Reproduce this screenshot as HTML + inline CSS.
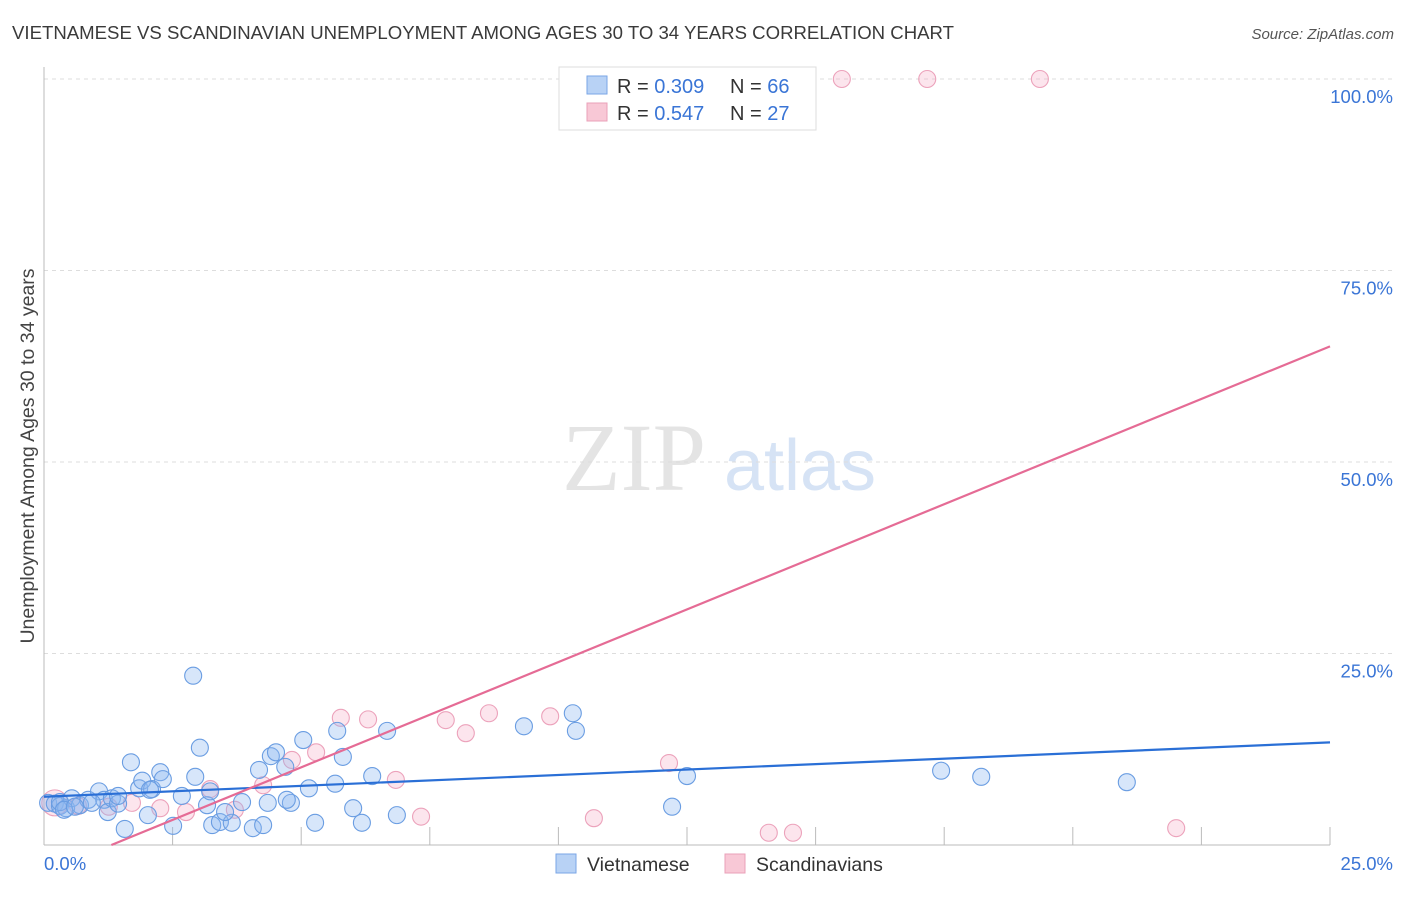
<!DOCTYPE html>
<html><head><meta charset="utf-8"><style>
body{margin:0;background:#fff;font-family:"Liberation Sans",sans-serif}
</style></head><body>
<svg id="c" width="1406" height="892" xmlns="http://www.w3.org/2000/svg">
<text x="12" y="39" font-size="18.6" fill="#3a3a3a">VIETNAMESE VS SCANDINAVIAN UNEMPLOYMENT AMONG AGES 30 TO 34 YEARS CORRELATION CHART</text>
<text x="1394" y="39" font-size="15" fill="#555" text-anchor="end" font-style="italic">Source: ZipAtlas.com</text>
<text transform="translate(34,456) rotate(-90)" font-size="19.5" fill="#444" text-anchor="middle">Unemployment Among Ages 30 to 34 years</text>
<g>
<text x="634" y="490" font-size="96" fill="#e4e4e4" font-family="Liberation Serif,serif" text-anchor="middle">ZIP</text>
<text x="800" y="490" font-size="72" fill="#d6e3f5" text-anchor="middle">atlas</text>
</g>
<g id="grid"></g>
<g id="axes"></g>
<g id="pts"></g>
<g id="lines"></g>
<g>
<rect x="559" y="67" width="257" height="63" fill="#fff" stroke="#ddd"/>
<rect x="587" y="76" width="20" height="18" fill="#b8d2f5" stroke="#7aa6e6"/>
<text x="617" y="93" font-size="20" fill="#333">R = <tspan fill="#3a75d6">0.309</tspan></text>
<text x="730" y="93" font-size="20" fill="#333">N = <tspan fill="#3a75d6">66</tspan></text>
<rect x="587" y="103" width="20" height="18" fill="#f8c8d6" stroke="#eaa0b8"/>
<text x="617" y="120" font-size="20" fill="#333">R = <tspan fill="#3a75d6">0.547</tspan></text>
<text x="730" y="120" font-size="20" fill="#333">N = <tspan fill="#3a75d6">27</tspan></text>
</g>
<g>
<rect x="556" y="854" width="20" height="19" fill="#b8d2f5" stroke="#7aa6e6"/>
<text x="587" y="871" font-size="19.5" fill="#333">Vietnamese</text>
<rect x="725" y="854" width="20" height="19" fill="#f8c8d6" stroke="#eaa0b8"/>
<text x="756" y="871" font-size="19.5" fill="#333">Scandinavians</text>
</g>
</svg>
<script>
const blueX=[0.08,0.21,0.31,0.43,0.54,0.70,0.86,1.07,1.17,1.24,1.32,1.44,1.57,1.69,1.85,1.91,2.02,2.10,2.26,2.31,2.51,2.68,2.90,2.94,3.03,3.17,3.23,3.27,3.42,3.65,3.85,4.06,4.18,4.26,4.35,4.41,4.51,4.69,4.80,5.04,5.15,5.27,5.66,5.70,5.81,6.01,6.18,6.38,6.67,6.86,9.33,10.28,10.34,12.21,12.50,17.44,18.22,21.05,0.31,0.39,0.93,1.44,2.06,3.52,4.72,0.6];
const blueY=[5.5,5.4,5.1,4.8,6.1,5.2,5.9,7.0,5.9,4.3,6.1,5.4,2.1,10.8,7.4,8.4,3.9,7.3,9.5,8.6,2.5,6.4,22.1,8.9,12.7,5.2,7.0,2.6,3.0,2.9,5.6,2.2,9.8,2.6,5.5,11.6,12.1,10.2,5.5,13.7,7.4,2.9,8.0,14.9,11.5,4.8,2.9,9.0,14.9,3.9,15.5,17.2,14.9,5.0,9.0,9.7,8.9,8.2,5.6,4.6,5.5,6.4,7.2,4.3,5.9,5.0];
const pinkX=[0.21,0.66,1.26,1.71,2.26,2.76,3.23,3.71,4.26,4.82,5.29,5.77,6.30,6.84,7.33,7.81,8.20,8.65,9.84,10.69,12.15,14.09,14.56,22.01,15.51,17.17,19.36];
const pinkY=[5.5,5.1,5.0,5.5,4.8,4.3,7.3,4.6,7.8,11.1,12.1,16.6,16.4,8.5,3.7,16.3,14.6,17.2,16.8,3.5,10.7,1.6,1.6,2.2,100,100,100];
const blueLine=[6.3,13.4];
const pinkLine=[-3.6,65.1];
const yTicks=[25,50,75,100];
const yTickLabels=["25.0%","50.0%","75.0%","100.0%"];
const xTickLabels=["0.0%","25.0%"];
const X=v=>44+v*(1330-44)/25, Y=v=>845-v*(845-79)/100;
const NS="http://www.w3.org/2000/svg";
function mk(p,t,a){const e=document.createElementNS(NS,t);for(const k in a)e.setAttribute(k,a[k]);p.appendChild(e);return e;}
const grid=document.getElementById('grid'),axes=document.getElementById('axes'),pts=document.getElementById('pts'),lines=document.getElementById('lines');
yTicks.forEach((t,i)=>{
 const l=mk(grid,'line',{x1:44,x2:1393,y1:Y(t),y2:Y(t),stroke:'#ddd','stroke-dasharray':'4,4'});
 
 
 const tx=mk(grid,'text',{x:1393,y:Y(t)+24,'font-size':18.5,fill:'#3a75d6','text-anchor':'end'});
 tx.textContent=yTickLabels[i];
 
 
});
mk(axes,'line',{x1:44,x2:44,y1:67,y2:845,stroke:'#bbb'});
mk(axes,'line',{x1:44,x2:1330,y1:845,y2:845,stroke:'#bbb'});
for(let i=1;i<=10;i++){const x=X(i*2.5);const t=mk(axes,'line',{x1:x,x2:x,y1:827,y2:845,stroke:'#bbb'});
 
 }
[[0,'start',44],[1,'end',1393]].forEach(([i,a,x])=>{const t=mk(axes,'text',{x:x,y:870,'font-size':18.5,fill:'#3a75d6','text-anchor':a});t.textContent=xTickLabels[i];
 
 });
pinkX.forEach((v,i)=>{const c=mk(pts,'circle',{cx:X(v),cy:Y(pinkY[i]),r:i===0?13:8.5,fill:'rgba(244,170,195,0.3)',stroke:'#eca2bb','stroke-width':1.1});
 
 });
blueX.forEach((v,i)=>{const c=mk(pts,'circle',{cx:X(v),cy:Y(blueY[i]),r:8.5,fill:'rgba(140,182,240,0.35)',stroke:'#6a9de2','stroke-width':1.1});
 
 });
const bl=mk(lines,'line',{x1:X(0),y1:Y(blueLine[0]),x2:X(25),y2:Y(blueLine[1]),stroke:'#2a6fd6','stroke-width':2.2});


const s=(pinkLine[1]-pinkLine[0])/25, x0=-pinkLine[0]/s;
const pl=mk(lines,'line',{x1:X(x0),y1:Y(0),x2:X(25),y2:Y(pinkLine[1]),stroke:'#e56b95','stroke-width':2.2});


</script>
</body></html>
